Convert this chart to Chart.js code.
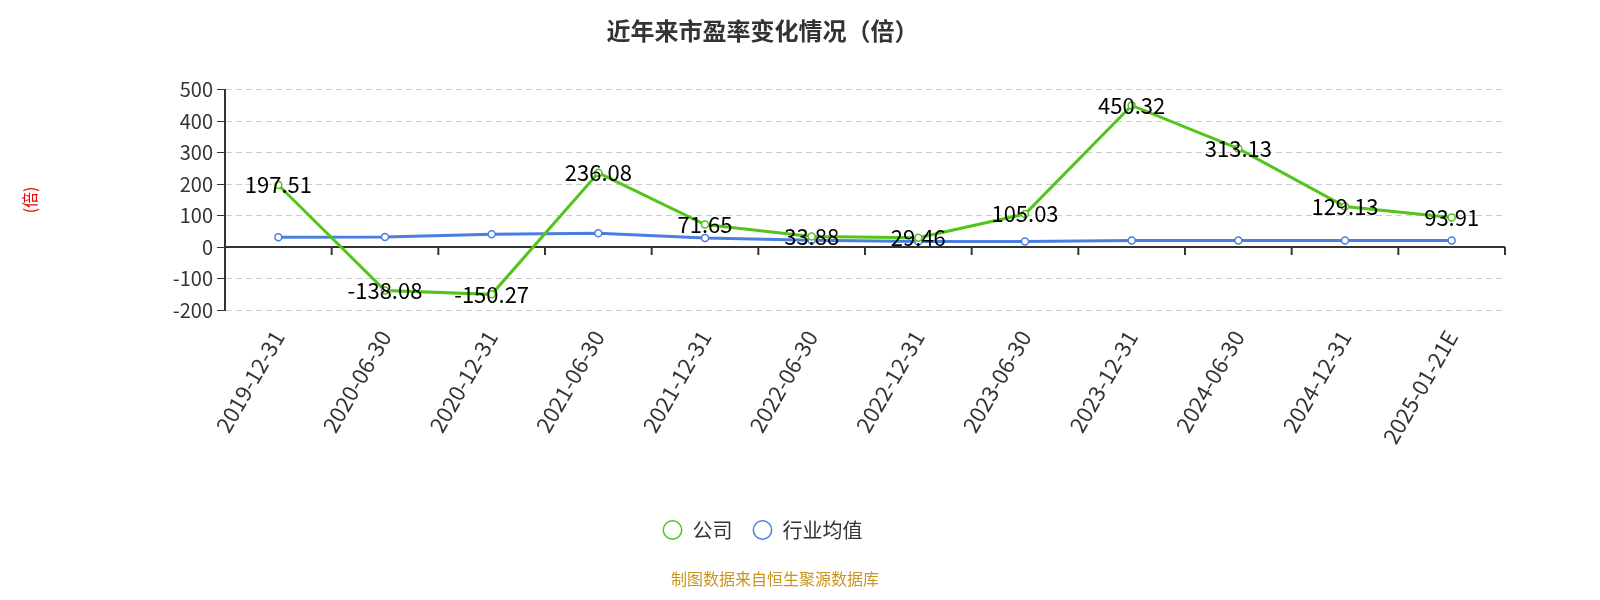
<!DOCTYPE html>
<html><head><meta charset="utf-8">
<script src="https://cdn.jsdelivr.net/npm/chart.js@4"></script>
<style>body{margin:0;background:#fff}#wrap{width:1600px;height:600px;position:relative}
#src{position:absolute;left:0;width:1550px;top:566px;text-align:center;color:#c8961e;font:16px "Noto Sans CJK SC"}</style>
</head><body><div id="wrap"><canvas id="c" width="1600" height="600"></canvas><div id="src">制图数据来自恒生聚源数据库</div></div>
<script>
const categories = ['2019-12-31','2020-06-30','2020-12-31','2021-06-30','2021-12-31','2022-06-30','2022-12-31','2023-06-30','2023-12-31','2024-06-30','2024-12-31','2025-01-21E'];
const companyPE = [197.51,-138.08,-150.27,236.08,71.65,33.88,29.46,105.03,450.32,313.13,129.13,93.91];
const industryPE = [31,32,41,44,29,22,18,18,21,21,21,21];
const yTicks = [500,400,300,200,100,0,-100,-200];

const labelPlugin = {
  id: 'vals',
  beforeDatasetsDraw(chart) {
    // zero axis line with ticks between categories
    const ctx = chart.ctx, y0 = chart.scales.y.getPixelForValue(0), xs = chart.scales.x, a = chart.chartArea;
    ctx.save();
    ctx.strokeStyle = '#333'; ctx.lineWidth = 2;
    ctx.beginPath(); ctx.moveTo(a.left, y0); ctx.lineTo(a.right, y0);
    for (let i = 0; i <= categories.length; i++) {
      const x = a.left + (a.right - a.left) * i / categories.length;
      ctx.moveTo(x, y0); ctx.lineTo(x, y0 + 8);
    }
    ctx.stroke(); ctx.restore();
  },
  afterDatasetsDraw(chart) {
    const ctx = chart.ctx, meta = chart.getDatasetMeta(0);
    ctx.save();
    ctx.font = '22px "Noto Sans CJK SC"';
    ctx.fillStyle = '#000'; ctx.textAlign = 'center'; ctx.textBaseline = 'middle';
    meta.data.forEach((p, i) => ctx.fillText(companyPE[i].toFixed(2), p.x, p.y));
    ctx.restore();
  }
};
Chart.defaults.font.family = '"Noto Sans CJK SC"';
new Chart(document.getElementById('c'), {
  type: 'line',
  data: {
    labels: categories,
    datasets: [
      { label: '公司', data: companyPE, borderColor: '#52c41a', backgroundColor: '#fff', borderWidth: 3, pointRadius: 3.5, pointBorderWidth: 1.5, tension: 0 },
      { label: '行业均值', data: industryPE, borderColor: '#4a7fe0', backgroundColor: '#fff', borderWidth: 3, pointRadius: 3.5, pointBorderWidth: 1.5, tension: 0 }
    ]
  },
  options: {
    responsive: false, animation: false,
    layout: { padding: { left: 20, right: 95, top: 10, bottom: 50 } },
    plugins: {
      title: { display: true, text: '近年来市盈率变化情况（倍）', color: '#333', font: { size: 24, weight: 'bold' }, padding: { top: 6, bottom: 45 } },
      legend: { position: 'bottom', labels: { color: '#333', font: { size: 20 }, usePointStyle: true, pointStyle: 'circle', boxWidth: 40, boxHeight: 13, padding: 20 } },
      tooltip: { enabled: false }
    },
    scales: {
      x: {
        offset: true,
        afterFit: s => { s.height = 190; },
        grid: { display: false },
        border: { display: false },
        ticks: { color: '#333', font: { size: 22 }, maxRotation: 60, minRotation: 60, padding: 8 }
      },
      y: {
        min: -200, max: 500,
        afterFit: s => { s.width = 205; },
        afterBuildTicks: ax => { ax.ticks = yTicks.map(v => ({ value: v })); },
        title: { display: true, text: '(倍)', color: '#e00', font: { size: 16 }, padding: 0 },
        grid: { color: c => c.tick && c.tick.value === 0 ? 'rgba(0,0,0,0)' : '#ccc', tickLength: 8, tickColor: '#333' },
        border: { color: '#333', width: 2, dash: [6, 4], display: true },
        ticks: { color: '#333', font: { size: 20 }, padding: 4 }
      }
    }
  },
  plugins: [labelPlugin]
});
</script></body></html>
